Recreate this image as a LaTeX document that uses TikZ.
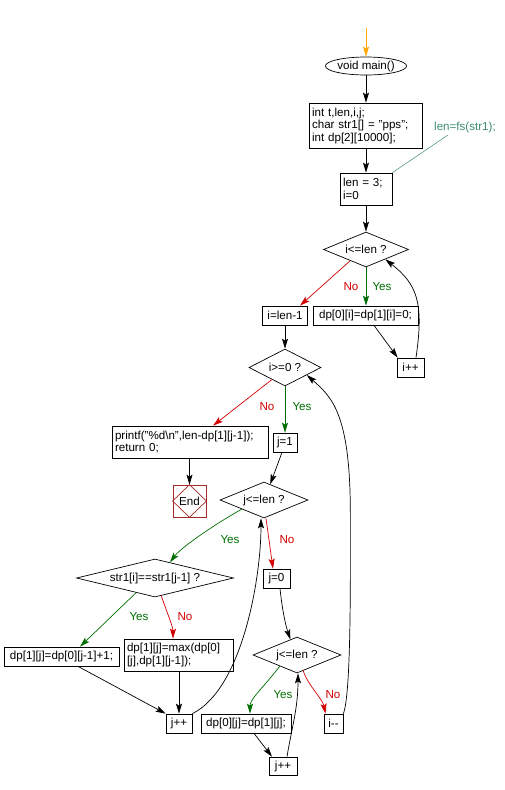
\documentclass[tikz,border=0pt]{standalone}
\usepackage{fontspec}
\setmainfont{Liberation Sans}
\usetikzlibrary{arrows.meta,shapes.geometric,calc}
\definecolor{yesc}{RGB}{0,110,0}
\definecolor{noc}{RGB}{210,0,0}
\definecolor{annc}{RGB}{60,140,110}
\definecolor{endc}{RGB}{165,42,42}
\definecolor{startc}{RGB}{255,165,0}
\begin{document}
\begin{tikzpicture}[x=1pt,y=-1pt,line width=0.7pt,
  font=\fontsize{11.6}{12.5}\selectfont,
  >={Stealth[length=10pt,width=6pt,inset=2pt]},
  box/.style={draw,rectangle,inner xsep=3pt,inner ysep=1pt,minimum height=19pt},
  dec/.style={draw,diamond,inner sep=0pt,aspect=2.4},
  multi/.style={align=left}]
\useasboundingbox (0,0) rectangle (504,790);
\coordinate (start) at (366,28);
\node[draw,ellipse,minimum width=79pt,minimum height=18pt,inner sep=0pt] (main) at (366,66) {void main()};
\node[box,multi,minimum width=113pt,minimum height=45pt,text width=107pt] (b1) at (365.5,125.5) {int t,len,i,j;\\char str1[] = "pps";\\int dp[2][10000];};
\node[box,multi,minimum width=52pt,minimum height=32pt,text width=46pt] (b2) at (366,189) {len = 3;\\i=0};
\node[text=annc] (ann) at (465,127) {len=fs(str1);};
\coordinate (annp) at (448,135);
\node[dec,minimum width=85pt,minimum height=35pt] (d1) at (366,249.5) {i<=len ?};
\node[box,minimum width=45pt] (b3) at (285,315.5) {i=len-1};
\node[box,minimum width=105pt] (b4) at (365.5,315.5) {dp[0][i]=dp[1][i]=0;};
\node[box,minimum width=27pt] (b5) at (410.5,367.5) {i++};
\node[dec,aspect=1.95,minimum width=72pt,minimum height=37pt] (d2) at (285,367.5) {i>=0 ?};
\node[box,multi,minimum width=156pt,minimum height=32pt,text width=150pt] (b6) at (190,442) {printf("\%d\textbackslash n",len-dp[1][j-1]);\\return 0;};
\node[box,minimum width=24pt] (b7) at (285,442.5) {j=1};
\node[draw=endc,minimum width=33pt,minimum height=32pt,inner sep=0pt] (end) at (189.5,501) {End};
\node[dec,minimum width=88pt,minimum height=36pt] (d3) at (264,500) {j<=len ?};
\node[dec,aspect=4.1,minimum width=157pt,minimum height=38pt] (d4) at (155,578) {str1[i]==str1[j-1] ?};
\node[box,minimum width=27pt] (b8) at (276.5,578.5) {j=0};
\node[box,minimum width=115pt] (b9) at (61.5,656.5) {dp[1][j]=dp[0][j-1]+1;};
\node[box,multi,minimum width=109pt,minimum height=32pt,text width=103pt] (b10) at (178.5,655) {dp[1][j]=max(dp[0]\\{}[j],dp[1][j-1]);};
\node[box,minimum width=26pt] (b11) at (179,723.5) {j++};
\node[dec,minimum width=88pt,minimum height=36pt] (d5) at (297,655) {j<=len ?};
\node[box,minimum width=90pt] (b12) at (246,723.5) {dp[0][j]=dp[1][j];};
\node[box,minimum width=19pt] (b13) at (333.5,723.5) {i-\kern0pt-};
\node[box,minimum width=28pt,minimum height=18pt] (b14) at (283,766) {j++};
% labels
\node[text=noc] (l1) at (351,287) {No};
\node[text=yesc] (l2) at (382,287) {Yes};
\node[text=noc] (l3) at (267,407) {No};
\node[text=yesc] (l4) at (302,407) {Yes};
\node[text=yesc] (l5) at (230,540) {Yes};
\node[text=noc] (l6) at (287,540) {No};
\node[text=yesc] (l7) at (139,617) {Yes};
\node[text=noc] (l8) at (185,617) {No};
\node[text=yesc] (l9) at (283,695) {Yes};
\node[text=noc] (l10) at (333,695) {No};
% connectors
\draw[->,startc] (start) -- (main.north);
\draw[->] (main.south) -- (main.south |- b1.north);
\draw[->] (b1.south -| b2.north) -- (b2.north);
\draw[annc,line width=0.5pt] (annp) -- (b2.north east);
\draw[->] (b2.south) -- (d1.north);
\draw[->,noc] ($(d1.west)!0.63!(d1.south)$) -- ($(b3.north)+(15,0)$);
\draw[->,yesc] (d1.south) -- (d1.south |- b4.north);
\draw[->] ($(b4.south)+(8.5,0)$) -- ($(b5.north west)+(1,0)$);
\draw[->] ($(b5.north)+(5.5,0)$) .. controls +(8,-55) and +(32,25) .. ($(d1.east)!0.55!(d1.south)$);
\draw[->] (b3.south) -- (d2.north);
\draw[->,noc] ($(d2.west)!0.64!(d2.south)$) -- ($(b6.north)+(23,0)$);
\draw[->,yesc] (d2.south) -- (b7.north);
\draw[->] (b6.south -| end.north) -- (end.north);
\draw[endc] (end.north) -- (end.east) -- (end.south) -- (end.west) -- cycle;
\draw[->] ($(b7.south)+(-3,0)$) -- ($(d3.north)!0.14!(d3.east)$);
\draw[->,yesc] ($(d3.west)!0.5!(d3.south)$) .. controls +(-22,12) and +(12,-16) .. ($(d4.north)!0.19!(d4.east)$);
\draw[->,noc] ($(d3.south)+(2,0)$) -- ($(b8.north)+(-3.5,0)$);
\draw[->] ($(b8.south)+(3.5,0)$) .. controls +(2,20) and +(-5,-15) .. ($(d5.north)!0.15!(d5.west)$);
\draw[->,yesc] ($(d4.west)!0.76!(d4.south)$) -- ($(b9.north)+(18.5,0)$);
\draw[->,noc] ($(d4.east)!0.92!(d4.south)$) .. controls +(5,15) and +(0,-12) .. ($(b10.north)+(-5.5,0)$);
\draw[->] ($(b9.south)+(16.5,0)$) -- (b11.north west);
\draw[->] (b11.north |- b10.south) -- (b11.north);
\draw[->] (b11.north east) .. controls +(50,-25) and +(0,60) .. ($(d3.south)+(-3,0)$);
\draw[->,yesc] ($(d5.west)!0.61!(d5.south)$) .. controls +(-15,20) and +(0,-15) .. ($(b12.north)+(4,0)$);
\draw[->,noc] ($(d5.east)!0.86!(d5.south)$) .. controls +(5,15) and +(-3,-15) .. ($(b13.north)+(-8,0)$);
\draw[->] ($(b12.south)+(8,0)$) -- ($(b14.north)+(-11,0)$);
\draw[->] ($(b14.north)+(4,0)$) .. controls +(5,-30) and +(0,35) .. ($(d5.south)+(1,0)$);
\draw[->] (b13.north east) .. controls +(8,-20) and +(0,60) .. ++(7,-200)
  .. controls +(0,-100) and +(25,22) .. ($(d2.east)!0.4!(d2.south)$);
\end{tikzpicture}
\end{document}
